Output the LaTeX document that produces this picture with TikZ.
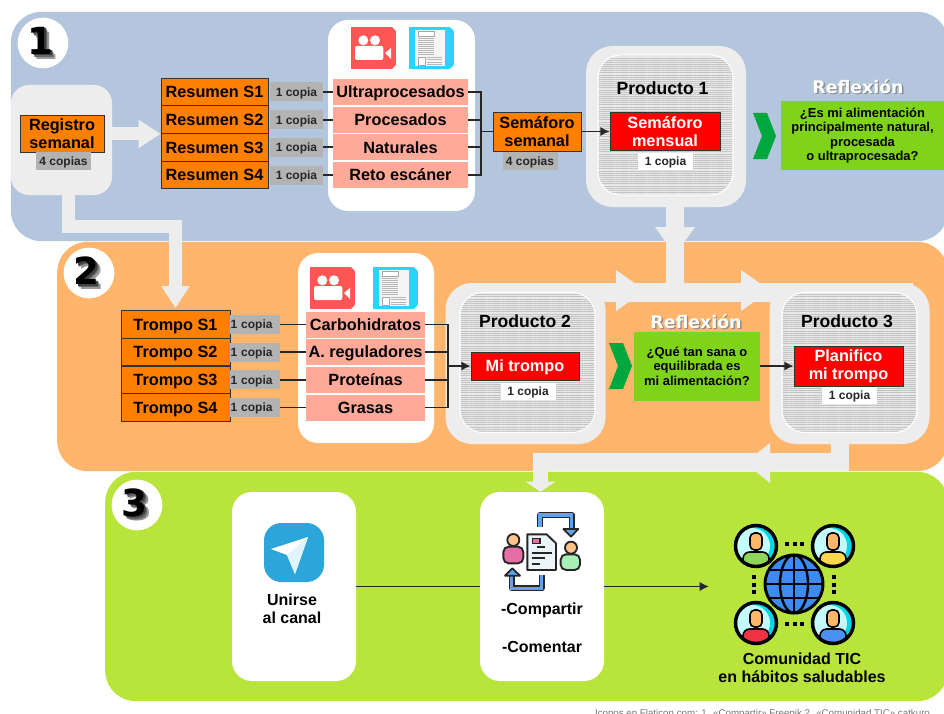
\documentclass[tikz,border=0pt]{standalone}
\usepackage{fontspec}
\setmainfont{Liberation Sans}
\newfontfamily\titulofont{DejaVu Sans}
\usetikzlibrary{arrows.meta}
\usetikzlibrary{patterns.meta}

\definecolor{azulPanel}{HTML}{B3C6DD}
\definecolor{naranjaPanel}{HTML}{FFB56B}
\definecolor{verdePanel}{HTML}{B9E43C}
\definecolor{grisClaro}{HTML}{EDEDED}
\definecolor{grisCopia}{HTML}{B3B3B3}
\definecolor{naranjaCaja}{HTML}{FF7F00}
\definecolor{salmon}{HTML}{FFAA99}
\definecolor{verdeCaja}{HTML}{7FD41A}
\definecolor{verdeFlecha}{HTML}{00A63E}
\definecolor{rojoVideo}{HTML}{FF5555}
\definecolor{cianDoc}{HTML}{2AD4FF}
\definecolor{azulTele}{HTML}{2BA5DA}
\definecolor{azulIcono}{HTML}{5EA2F0}
\definecolor{azulMundo}{HTML}{3D8BF2}
\definecolor{piel}{HTML}{FFB868}
\definecolor{pielClara}{HTML}{FFC48A}
\definecolor{rosaIcono}{HTML}{E36FA5}
\definecolor{mentaIcono}{HTML}{A6F0B6}
\definecolor{papel}{HTML}{EAF6F8}
\definecolor{verdePersona}{HTML}{8ED558}
\definecolor{amarilloPersona}{HTML}{FFD84D}
\definecolor{rojoPersona}{HTML}{EE3344}
\definecolor{azulPersona}{HTML}{4A90F0}
\definecolor{cieloPersona}{HTML}{C4FBFF}
\definecolor{cianPersona}{HTML}{00D8E8}

\newcommand{\cifra}[1]{\makebox[0pt][l]{\kern 3.6pt\raisebox{-3.6pt}{\color{black!40}#1}}\makebox[0pt][l]{\kern 2.4pt\raisebox{-2.4pt}{\color{black!60}#1}}\makebox[0pt][l]{\kern 1.2pt\raisebox{-1.2pt}{\color{black!75}#1}}#1\kern 3.6pt}
\newcommand{\sombra}[1]{\makebox[0pt][l]{\kern 1pt\raisebox{-1pt}{\color{black!45}#1}}{\color{white}#1}}

\begin{document}
\begin{tikzpicture}[x = 0.75pt, y = -0.75pt,
		panel/.style = {rounded corners = 23pt, inner sep = 0pt, minimum height = 172pt},
		circulo/.style = {circle, fill = white, minimum size = 38pt, inner sep = 0pt, font = \titulofont\bfseries\fontsize{28}{30}\selectfont},
		blanca/.style = {fill = white, rounded corners = 15pt, inner sep = 0pt},
		fondo/.style = {fill = grisClaro, rounded corners = 20pt, inner sep = 0pt, minimum width = 120pt, minimum height = 120.75pt},
		rayado/.style = {draw = white, thick, rounded corners = 17pt, inner sep = 0pt, minimum width = 101.25pt, minimum height = 105pt,
			preaction = {fill = black!9}, pattern = {Lines[angle = 0, distance = 1.6pt, line width = 0.75pt]}, pattern color = black!24},
		base/.style = {inner sep = 0pt, align = center, font = \bfseries\fontsize{12.2}{13.5}\selectfont},
		naranja/.style = {base, draw = black!80, semithick, fill = naranjaCaja},
		semana/.style = {naranja, minimum height = 20.7pt, text height = 8.8pt, text depth = 0pt},
		tema/.style = {base, fill = salmon, minimum height = 19.5pt, text height = 8.8pt, text depth = 0pt},
		roja/.style = {base, draw = black!80, semithick, fill = red, text = white},
		copia/.style = {inner sep = 0pt, fill = grisCopia, text = black!85, minimum width = 39.75pt, minimum height = 14.25pt, text height = 6.5pt, text depth = 0pt, font = \bfseries\fontsize{9}{10}\selectfont},
		copiaCorta/.style = {copia, minimum width = 37.5pt, text width = 36.75pt, align = left},
		copiaBlanca/.style = {copia, fill = white, minimum width = 41.25pt, minimum height = 12.75pt},
		producto/.style = {inner sep = 0pt, font = \bfseries\fontsize{13.2}{15}\selectfont},
		pregunta/.style = {inner sep = 0pt, fill = verdeCaja, align = center, minimum height = 51.75pt, font = \bfseries\fontsize{9.7}{10.9}\selectfont},
		reflexion/.style = {inner sep = 0pt, font = \titulofont\bfseries\fontsize{13}{15}\selectfont},
		etiqueta/.style = {inner sep = 0pt, align = center, font = \bfseries\fontsize{12}{13.5}\selectfont},
		linea/.style = {draw = black!85, line width = 1.3pt},
		flecha/.style = {linea, -{Latex[length = 7pt, width = 7pt]}},
		bandaLisa/.style = {draw = grisClaro, line width = 14pt},
		banda/.style = {draw = grisClaro, line width = 9.75pt, -{Triangle[length = 16.5pt, width = 20.25pt]}},
		bandaB/.style = {draw = grisClaro, line width = 11pt, -{Triangle[length = 7.5pt, width = 22pt]}},
		pics/video/.style = {code = {
			\fill [rojoVideo] (0, 0) rectangle (45, 42);
			\fill [white] (41, 0) -- (45, 0) -- (45, 4) -- cycle (41, 42) -- (45, 42) -- (45, 38) -- cycle;
			\fill [white] (12.3, 13.3) circle (5) (24, 13.3) circle (5);
			\fill [white, rounded corners = 1.5pt] (4, 19) rectangle (32.3, 33);
			\fill [white] (34, 26) -- (40, 21) -- (40, 32) -- cycle;
		}},
		pics/documento/.style = {code = {
			\fill [cianDoc] (0, 0) rectangle (45, 42);
			\fill [white] (41, 0) -- (45, 0) -- (45, 4) -- cycle (41, 42) -- (45, 42) -- (45, 38) -- cycle;
			\fill [black!4] (6, 3) rectangle (36, 39);
			\draw [black!35, fill = white, line width = 0.4pt] (9, 4) rectangle (25, 9);
			\foreach \yi in {11, 13, ..., 27} {\draw [black!28, line width = 0.6pt] (9, \yi) -- (25, \yi);}
			\draw [black!35, fill = white, line width = 0.4pt] (9, 30) rectangle (16, 38);
			\foreach \yi in {30, 32.5, ..., 38} {\draw [black!28, line width = 0.6pt] (18, \yi) -- (33, \yi);}
		}},
		pics/persona/.style = {code = {
			\begin{scope}
				\clip (0, 0) circle (20.5);
				\fill [cianPersona] (0, 0) circle (20.5);
				\fill [cieloPersona] (-4, 0) circle (18);
				\draw [black, line width = 1.2pt, fill = #1, rounded corners = 5pt] (-13, 28) rectangle (13, 6);
			\end{scope}
			\draw [black, line width = 1.2pt, fill = piel, rounded corners = 3.5pt] (-6, -13) rectangle (6, 4);
			\draw [black, line width = 2.6pt] (0, 0) circle (20.5);
		}}
	]
	\useasboundingbox (0, 0) rectangle (944, 713);

	\node (panelA) at (479.5, 126.5) [panel, fill = azulPanel, minimum width = 703pt] {};
	\node (circuloA) at (43, 43) [circulo] {\cifra{1}};
	\node (fondoReg) at (61.5, 140) [fill = grisClaro, rounded corners = 13.5pt, inner sep = 0pt, minimum width = 75.75pt, minimum height = 82.5pt] {};
	\node (registro) at (62, 133.5) [naranja, minimum width = 63pt, minimum height = 27.75pt] {Registro\\semanal};
	\node (copiasReg) at (63.5, 161) [copia, minimum width = 41.25pt, minimum height = 13.5pt] {4 copias};

	\node (cajaA) at (401.5, 115.5) [blanca, minimum width = 110.25pt, minimum height = 143.25pt] {};
	\pic at (351, 27) {video};
	\pic at (409, 27) {documento};

	\foreach \i/\y/\nombre in {1/92/Ultraprocesados, 2/119.7/Procesados, 3/147.3/Naturales, 4/175/Reto escáner} {
		\node (resumen\i) at (214.5, \y) [semana, minimum width = 80.25pt] {Resumen S\i};
		\node (copia\i) at (296.5, \y) [copia] {1 copia};
		\node (tema\i) at (400.5, \y) [tema, minimum width = 101.25pt] {\nombre};
		\draw [linea] (copia\i) -- (tema\i);
	}
	\draw [banda] (fondoReg.east |- resumen2.south) -- (resumen2.south west);

	\node (semaforo) at (537, 131.5) [naranja, minimum width = 66pt, minimum height = 29.25pt] {Semáforo\\semanal};
	\node (copiasSem) at (530, 161) [copia, minimum width = 41.25pt, minimum height = 13.5pt] {4 copias};
	\coordinate (llaveA) at (481, 131.5);
	\foreach \i in {1, ..., 4} {
		\draw [linea] (tema\i) -- (tema\i -| llaveA);
	}
	\draw [linea, line cap = rect] (tema1 -| llaveA) -- (tema4 -| llaveA);
	\draw [linea] (llaveA) -- (semaforo);

	\node (prodA) at (666, 126.5) [fondo] {};
	\node (rayaA) at (665.5, 125) [rayado] {};
	\node (tituloA) at (662.5, 88) [producto] {Producto 1};
	\node (mensual) at (665, 131.5) [roja, minimum width = 82.5pt, minimum height = 28.5pt] {Semáforo\\mensual};
	\node (copiaA) at (665.5, 161) [copiaBlanca] {1 copia};
	\draw [flecha] (semaforo) -- (mensual);

	\fill [verdeFlecha] (753, 113) -- (767, 113) -- (776, 136) -- (767, 159) -- (753, 159) -- (762, 136) -- cycle;
	\node (reflexionA) at (858, 87) [reflexion] {\sombra{Reflexión}};
	\node (preguntaA) at (862.5, 135.5) [pregunta, minimum width = 122.25pt] {¿Es mi alimentación\\principalmente natural,\\procesada\\o ultraprocesada?};

	\fill [grisClaro] (655, 227) -- (695, 227) -- (675, 255) -- cycle;

	\node (panelB) at (502.5, 356.5) [panel, fill = naranjaPanel, minimum width = 668pt] {};
	\node (circuloB) at (89, 273) [circulo] {\cifra{2}};
	\coordinate (codoA) at (68.5, 226.5);
	\draw [banda] (fondoReg.south -| codoA) -- (codoA) -| (175.5, 308);

	\node (cajaB) at (366, 348) [blanca, minimum width = 102pt, minimum height = 142.5pt] {};
	\pic at (310, 267) {video};
	\pic at (373, 267) {documento};

	\foreach \i/\y/\nombre in {1/324.5/Carbohidratos, 2/352/A. reguladores, 3/379.7/Proteínas, 4/407.5/Grasas} {
		\node (trompo\i) at (175.5, \y) [semana, minimum width = 81.75pt] {Trompo S\i};
		\node (copiaT\i) at (255, \y) [copiaCorta] {1 copia};
		\node (temaT\i) at (365.5, \y) [tema, minimum width = 89.25pt] {\nombre};
		\draw [linea] (copiaT\i) -- (temaT\i);
	}

	\node (prodB) at (525.5, 363.5) [fondo] {};
	\node (prodC) at (849.5, 363.5) [fondo] {};
	\coordinate (colA) at (675, 292.5);
	\coordinate (finB) at (913, 292.5);
	\draw [bandaLisa] (prodB.north |- colA) -- (finB);
	\draw [bandaLisa] (prodA.south -| colA) -- (colA);
	\fill [grisClaro] (616, 270) -- (645, 290.5) -- (616, 311) -- cycle;
	\fill [grisClaro] (741, 270) -- (770, 290.5) -- (741, 311) -- cycle;

	\node (rayaB) at (527.5, 362.5) [rayado] {};
	\node (rayaC) at (849.5, 362.5) [rayado] {};
	\node (tituloB) at (525, 321) [producto] {Producto 2};
	\node (tituloC) at (847, 321) [producto] {Producto 3};

	\node (miTrompo) at (525, 366) [roja, minimum width = 81pt, minimum height = 21pt, text height = 8.8pt, text depth = 0pt] {Mi trompo};
	\node (copiaB) at (528, 391.5) [copiaBlanca] {1 copia};
	\coordinate (llaveB) at (448, 366);
	\foreach \i in {1, ..., 4} {
		\draw [linea] (temaT\i) -- (temaT\i -| llaveB);
	}
	\draw [linea, line cap = rect] (temaT1 -| llaveB) -- (temaT4 -| llaveB);
	\draw [flecha] (llaveB) -- (miTrompo);

	\fill [verdeFlecha] (609, 343) -- (623, 343) -- (632, 366) -- (623, 389) -- (609, 389) -- (618, 366) -- cycle;
	\node (reflexionB) at (696, 322) [reflexion] {\sombra{Reflexión}};
	\node (preguntaB) at (697, 366) [pregunta, minimum width = 94.5pt] {¿Qué tan sana o\\equilibrada es\\mi alimentación?};
	\node (planifico) at (848.5, 366) [roja, minimum width = 81.75pt, minimum height = 30pt] {Planifico\\mi trompo};
	\node (copiaC) at (849.5, 395.5) [copiaBlanca] {1 copia};
	\draw [flecha] (preguntaB) -- (planifico);

	\node (panelC) at (526.5, 586.5) [panel, fill = verdePanel, minimum width = 632pt] {};
	\node (circuloC) at (137, 505) [circulo] {\cifra{3}};

	\node (cajaUnirse) at (294, 586.5) [blanca, minimum width = 93pt, minimum height = 141.75pt] {};
	\node (cajaCompartir) at (542, 586.5) [blanca, minimum width = 93pt, minimum height = 141.75pt] {};

	\coordinate (colC) at (840, 462);
	\coordinate (colD) at (540.5, 462);
	\coordinate (colE) at (540.5, 453);
	\draw [bandaLisa] (prodC.south -| colC) -- (colC) -- (colD);
	\draw [bandaB] (colE) -- (cajaCompartir.north -| colE);
	\fill [grisClaro] (770, 443) -- (745, 463) -- (770, 483) -- cycle;

	\fill [azulTele, rounded corners = 13pt] (264, 523) rectangle (324, 582);
	\fill [white] (271, 549) -- (287, 555) -- (295, 574) -- (308, 537) -- cycle;
	\fill [cyan!12] (287, 555) -- (308, 537) -- (295, 574) -- cycle;
	\node (unirse) at (292, 609) [etiqueta] {Unirse\\al canal};

	\begin{scope}[shift = {(495, 505)}, scale = 0.3333]
		\draw [black!85, line width = 4.5pt, line join = round] (135, 65) -- (135, 30) -- (230, 30) -- (230, 72);
		\draw [azulIcono, line width = 2.4pt] (135, 65) -- (135, 30) -- (230, 30) -- (230, 72);
		\draw [black!85, fill = azulIcono, line width = 1.3pt, line join = round] (205, 72) -- (250, 72) -- (228, 95) -- cycle;
		\draw [black!85, line width = 4.5pt, line join = round] (140, 210) -- (140, 250) -- (50, 250) -- (50, 212);
		\draw [azulIcono, line width = 2.4pt] (140, 210) -- (140, 250) -- (50, 250) -- (50, 212);
		\draw [black!85, fill = azulIcono, line width = 1.3pt, line join = round] (30, 212) -- (75, 212) -- (52, 190) -- cycle;
		\draw [black!85, fill = pielClara, line width = 1.4pt] (55, 105) circle (18);
		\draw [black!85, fill = rosaIcono, line width = 1.4pt, rounded corners = 4pt] (25, 175) rectangle (85, 125);
		\draw [black!85, fill = pielClara, line width = 1.4pt] (228, 128) circle (18);
		\draw [black!85, fill = mentaIcono, line width = 1.4pt, rounded corners = 4pt] (197, 195) rectangle (255, 148);
		\draw [black!85, fill = papel, line width = 1.4pt, line join = round] (97, 88) -- (155, 88) -- (183, 115) -- (183, 195) -- (97, 195) -- cycle;
		\draw [black!85, fill = rosaIcono, line width = 1pt] (112, 100) rectangle (135, 115);
		\foreach \yi/\xa/\xb in {125/125/150, 145/110/170, 160/110/150, 177/110/135} {
			\draw [black!85, line width = 1.4pt] (\xa, \yi) -- (\xb, \yi);
		}
	\end{scope}
	\node (compartir) at (542, 610) [etiqueta] {-Compartir};
	\node (comentar) at (542, 647) [etiqueta] {-Comentar};

	\coordinate (puntaRed) at (709, 586.5);
	\draw [linea] (cajaUnirse) -- (cajaCompartir);
	\draw [flecha] (cajaCompartir) -- (puntaRed);

	\pic at (756, 546) {persona = verdePersona};
	\pic at (833, 546) {persona = amarilloPersona};
	\pic at (756, 623) {persona = rojoPersona};
	\pic at (833, 623) {persona = azulPersona};
	\draw [black, line width = 2.2pt, fill = azulMundo] (794, 584) circle (29);
	\draw [black, line width = 1.8pt] (794, 555) -- (794, 613) (765, 584) -- (823, 584) (769, 570) -- (819, 570) (769, 598) -- (819, 598);
	\draw [black, line width = 1.8pt] (794, 584) ellipse (14 and 29);
	\foreach \d in {-7.5, 0, 7.5} {
		\fill [black] (794.5 + \d - 2, 542) rectangle (794.5 + \d + 2, 546);
		\fill [black] (794.5 + \d - 2, 622) rectangle (794.5 + \d + 2, 626);
		\fill [black] (752, 584.5 + \d - 2) rectangle (756, 584.5 + \d + 2);
		\fill [black] (832, 584.5 + \d - 2) rectangle (836, 584.5 + \d + 2);
	}
	\node (comunidad) at (802, 668) [etiqueta] {Comunidad TIC\\en hábitos saludables};

	\node (creditos) at (762.5, 716) [anchor = base, inner sep = 0pt, text = black!55, font = \fontsize{7.3}{8}\selectfont] {Iconos en Flaticon.com: 1. «Compartir» Freepik 2. «Comunidad TIC» catkuro};
\end{tikzpicture}
\end{document}
